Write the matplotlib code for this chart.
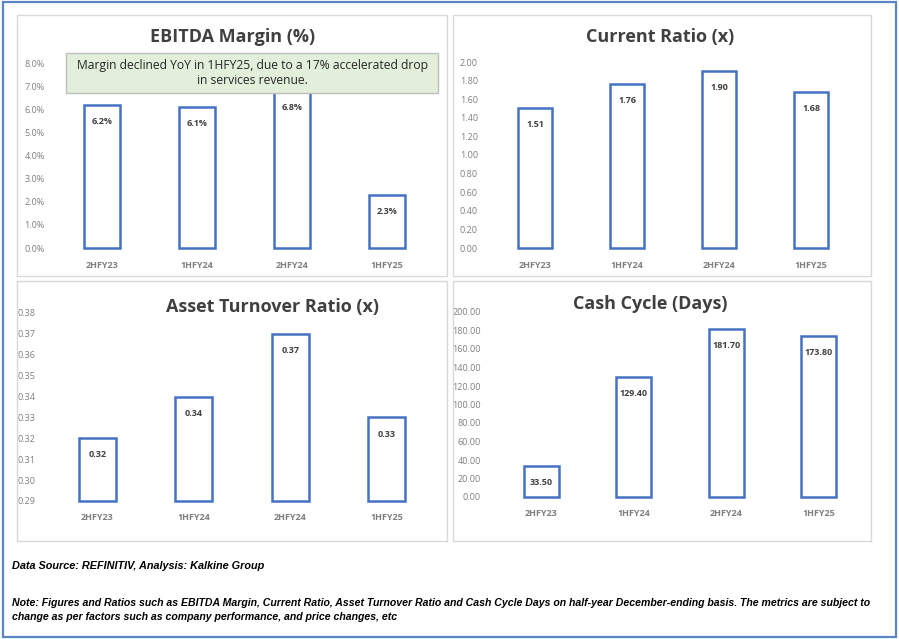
import matplotlib
matplotlib.use("Agg")
import matplotlib.pyplot as plt
from matplotlib.patches import Rectangle
from matplotlib.ticker import FuncFormatter, MultipleLocator

categories = ["2HFY23", "1HFY24", "2HFY24", "1HFY25"]
ebitda_margin = [6.2, 6.1, 6.8, 2.3]
current_ratio = [1.51, 1.76, 1.90, 1.68]
asset_turnover = [0.32, 0.34, 0.37, 0.33]
cash_cycle = [33.50, 129.40, 181.70, 173.80]

W, H = 899, 639
fig = plt.figure(figsize=(W / 100, H / 100), dpi=100)

FONT = ["Open Sans", "DejaVu Sans"]
BLUE = "#4472C4"
GRAY = "#7F7F7F"
DARK = "#404040"


def px_rect(x0, y0, x1, y1):
    return [x0 / W, 1 - y1 / H, (x1 - x0) / W, (y1 - y0) / H]


# outer blue border and panel borders
fig.patches.append(Rectangle((3 / W, 1 - 637 / H), 893 / W, 635 / H, transform=fig.transFigure,
                             fill=False, edgecolor="#5B86C5", linewidth=1.6))
for (x0, y0, x1, y1) in [(17, 15, 447, 276), (453, 15, 871, 276), (17, 281, 447, 541), (453, 281, 871, 541)]:
    fig.patches.append(Rectangle((x0 / W, 1 - y1 / H), (x1 - x0) / W, (y1 - y0) / H,
                                 transform=fig.transFigure, fill=False,
                                 edgecolor="#D9D9D9", linewidth=1.0))


def panel(rect, values, ylim, step, fmt, labfmt, title, title_xy, ypad=4):
    ax = fig.add_axes(px_rect(*rect))
    x = range(len(categories))
    bars = ax.bar(x, [v - ylim[0] for v in values], bottom=ylim[0], width=0.38,
                  facecolor="white", edgecolor=BLUE, linewidth=1.8)
    for b in bars:
        b.set_clip_on(False)
    ax.set_xlim(-0.5, len(categories) - 0.5)
    ax.set_ylim(*ylim)
    ax.yaxis.set_major_locator(MultipleLocator(step))
    ax.yaxis.set_major_formatter(FuncFormatter(fmt))
    ax.set_xticks(list(x))
    ax.set_xticklabels(categories, fontweight="bold")
    for s in ax.spines.values():
        s.set_visible(False)
    ax.tick_params(axis="both", length=0, colors=GRAY, labelsize=6.5)
    ax.tick_params(axis="x", pad=9)
    ax.tick_params(axis="y", pad=ypad)
    for lab in ax.get_xticklabels() + ax.get_yticklabels():
        lab.set_fontfamily(FONT)
    for xi, v in zip(x, values):
        ax.annotate(labfmt(v), (xi, v), xytext=(0, -12), textcoords="offset points",
                    ha="center", va="center", fontsize=6.5, fontweight="bold",
                    color=DARK, family=FONT)
    fig.text(title_xy[0] / W, 1 - title_xy[1] / H, title, ha="center", va="center",
             fontsize=13, fontweight="bold", color=DARK, family=FONT)
    return ax


panel((54.5, 63, 434.5, 248), ebitda_margin, (0, 8), 1,
      lambda v, p: f"{v:.1f}%", lambda v: f"{v:.1f}%",
      "EBITDA Margin (%)", (233, 37), ypad=7)
panel((489, 62, 857, 248), current_ratio, (0, 2.0), 0.2,
      lambda v, p: f"{v:.2f}", lambda v: f"{v:.2f}",
      "Current Ratio (x)", (660, 37), ypad=8)
panel((49, 313, 435, 501), asset_turnover, (0.29, 0.38), 0.01,
      lambda v, p: f"{v:.2f}", lambda v: f"{v:.2f}",
      "Asset Turnover Ratio (x)", (272, 307), ypad=10)
panel((495, 312, 865, 497), cash_cycle, (0, 200), 20,
      lambda v, p: f"{v:.2f}", lambda v: f"{v:.2f}",
      "Cash Cycle (Days)", (650, 304), ypad=10)

# annotation box
fig.patches.append(Rectangle((66 / W, 1 - 93 / H), (438 - 66) / W, (93 - 53) / H,
                             transform=fig.transFigure, facecolor="#E2EFDA",
                             edgecolor="#BFBFBF", linewidth=1.0, zorder=5))
fig.text(252 / W, 1 - 73 / H,
         "Margin declined YoY in 1HFY25, due to a 17% accelerated drop\nin services revenue.",
         ha="center", va="center", fontsize=8.7, color="#262626", family=FONT,
         linespacing=1.3, zorder=6)

NOTEFONT = ["Liberation Sans Narrow", "Liberation Sans", "DejaVu Sans"]
fig.text(12 / W, 1 - 566 / H, "Data Source: REFINITIV, Analysis: Kalkine Group",
         ha="left", va="center", fontsize=7.8, fontweight="bold", fontstyle="italic",
         color="black", family=NOTEFONT)
fig.text(12 / W, 1 - 610 / H,
         "Note: Figures and Ratios such as EBITDA Margin, Current Ratio, Asset Turnover Ratio and Cash Cycle Days on half-year December-ending basis. The metrics are subject to\n"
         "change as per factors such as company performance, and price changes, etc",
         ha="left", va="center", fontsize=7.6, fontweight="bold", fontstyle="italic",
         color="black", linespacing=1.45, family=NOTEFONT)

fig.savefig("out.png", dpi=100)
